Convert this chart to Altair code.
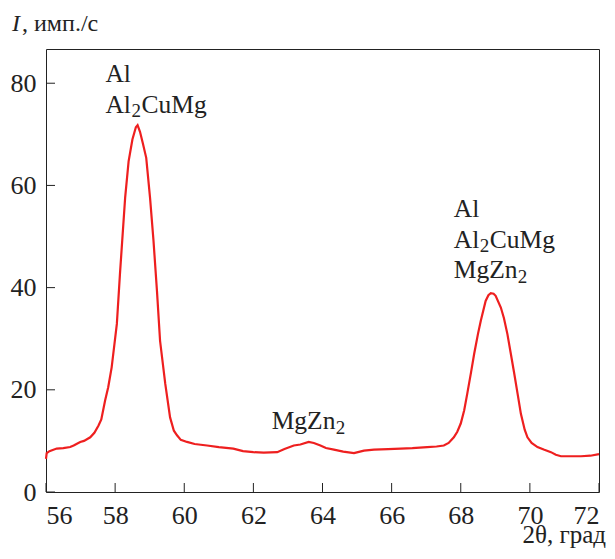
import altair as alt
import pandas as pd

theta = [56.0, 56.02, 56.1, 56.31, 56.5, 56.7, 56.8, 56.99, 57.1, 57.28, 57.4, 57.52, 57.6, 57.71, 57.8,
         57.9, 58.05, 58.14, 58.29, 58.39, 58.5, 58.6, 58.65, 58.72, 58.8, 58.9, 59.01, 59.11, 59.21, 59.3,
         59.45, 59.59, 59.7, 59.79, 59.9, 60.08, 60.3, 60.66, 61.0, 61.42, 61.7, 62.0, 62.3, 62.69, 62.9,
         63.17, 63.36, 63.6, 63.75, 63.94, 64.1, 64.33, 64.6, 64.91, 65.2, 65.49, 65.9, 66.26, 66.6, 67.03,
         67.3, 67.51, 67.65, 67.8, 67.9, 68.0, 68.1, 68.19, 68.3, 68.39, 68.5, 68.58, 68.72, 68.8, 68.87,
         68.95, 69.01, 69.16, 69.25, 69.35, 69.45, 69.55, 69.65, 69.74, 69.85, 69.93, 70.05, 70.22, 70.4,
         70.61, 70.75, 70.9, 71.2, 71.48, 71.75, 72.0]
intensity = [6.5, 7.6, 8.0, 8.5, 8.6, 8.8, 9.1, 9.8, 10.0, 10.7, 11.6, 13.0, 14.2, 17.9, 20.5,
             24.4, 32.9, 42.7, 57.6, 64.7, 69.0, 71.4, 71.8, 70.5, 68.3, 65.4, 57.6, 49.2, 39.4, 29.6,
             21.2, 14.6, 12.0, 11.1, 10.2, 9.8, 9.4, 9.1, 8.8, 8.5, 8.0, 7.8, 7.7, 7.8, 8.4,
             9.1, 9.3, 9.8, 9.6, 9.1, 8.6, 8.3, 7.9, 7.6, 8.1, 8.3, 8.4, 8.5, 8.6, 8.8,
             8.9, 9.1, 9.6, 10.7, 11.8, 13.4, 16.0, 19.3, 23.5, 27.1, 31.0, 33.5, 37.4, 38.5, 38.9,
             38.8, 38.4, 36.1, 34.0, 30.9, 27.0, 23.1, 19.0, 15.3, 12.2, 10.7, 9.6, 8.8, 8.3,
             7.8, 7.3, 7.0, 7.0, 7.0, 7.1, 7.4]

x_ticks = [56, 58, 60, 62, 64, 66, 68, 70, 72]
y_ticks = [0, 20, 40, 60, 80]

# annotation lines: main part, subscript, tail (e.g. "Al" + "2" + "CuMg")
label_main = ["Al", "Al", "Al", "Al", "MgZn", "MgZn"]
label_sub = ["", "2", "", "2", "2", "2"]
label_tail = ["", "CuMg", "", "CuMg", "", ""]
label_x = [57.72, 57.72, 67.8, 67.8, 67.8, 62.53]
label_y = [80.3, 74.2, 53.9, 47.7, 41.8, 12.4]

W, H = 553, 443
FONT = "Liberation Serif, Times New Roman, DejaVu Serif, serif"
INK = "#222222"
FS_TICK = 26
FS_ANN = 25.5
FS_SUB = 19

xs = alt.Scale(domain=[56, 72], nice=False)
ys = alt.Scale(domain=[0, 86.7], nice=False)

df = pd.DataFrame({"t": theta, "i": intensity})
line = alt.Chart(df).mark_line(color="#ee1f1f", strokeWidth=2.2).encode(
    x=alt.X("t:Q", scale=xs,
            axis=alt.Axis(values=x_ticks, title=None, ticks=False, domain=False, grid=False,
                          labelFont=FONT, labelFontSize=FS_TICK, labelColor=INK, labelPadding=10)),
    y=alt.Y("i:Q", scale=ys,
            axis=alt.Axis(values=y_ticks, title=None, ticks=False, domain=False, grid=False,
                          labelFont=FONT, labelFontSize=FS_TICK, labelColor=INK, labelPadding=10)),
)

xt = alt.Chart(pd.DataFrame({"v": x_ticks})).mark_rule(color=INK, strokeWidth=1).encode(
    x=alt.X("v:Q", scale=xs), y=alt.value(H), y2=alt.value(H - 9))
yt = alt.Chart(pd.DataFrame({"v": y_ticks})).mark_rule(color=INK, strokeWidth=1).encode(
    y=alt.Y("v:Q", scale=ys), x=alt.value(0), x2=alt.value(9))

ann = pd.DataFrame({"x": label_x, "y": label_y, "m": label_main, "s": label_sub, "tl": label_tail})
base = alt.Chart(ann).encode(x=alt.X("x:Q", scale=xs), y=alt.Y("y:Q", scale=ys))
ann_main = base.mark_text(font=FONT, fontSize=FS_ANN, align="left", baseline="alphabetic",
                          color=INK).encode(text="m:N")
ann_sub_al = base.transform_filter("datum.m == 'Al' && datum.s != ''").mark_text(
    font=FONT, fontSize=FS_SUB, align="left", baseline="alphabetic", color=INK, dx=26, dy=4
).encode(text="s:N")
ann_sub_mg = base.transform_filter("datum.m == 'MgZn'").mark_text(
    font=FONT, fontSize=FS_SUB, align="left", baseline="alphabetic", color=INK, dx=64, dy=5
).encode(text="s:N")
ann_tail = base.transform_filter("datum.tl != ''").mark_text(
    font=FONT, fontSize=FS_ANN, align="left", baseline="alphabetic", color=INK, dx=36
).encode(text="tl:N")

ytitle_i = alt.Chart(pd.DataFrame({"s": ["I"]})).mark_text(
    font=FONT, fontSize=24, fontStyle="italic", align="left", baseline="alphabetic", color=INK).encode(
    x=alt.value(-34), y=alt.value(-18), text="s:N")
ytitle_rest = alt.Chart(pd.DataFrame({"s": [", имп./с"]})).mark_text(
    font=FONT, fontSize=24, align="left", baseline="alphabetic", color=INK).encode(
    x=alt.value(-24), y=alt.value(-18), text="s:N")
xtitle = alt.Chart(pd.DataFrame({"s": ["2θ, град"]})).mark_text(
    font=FONT, fontSize=25, align="right", baseline="alphabetic", color=INK).encode(
    x=alt.value(W + 7), y=alt.value(H + 51), text="s:N")

chart = alt.layer(line, xt, yt, ann_main, ann_sub_al, ann_sub_mg, ann_tail,
                  ytitle_i, ytitle_rest, xtitle).properties(
    width=W, height=H,
    autosize=alt.AutoSizeParams(type="none"),
    padding={"left": 38, "top": 41, "right": 8, "bottom": 57},
).configure_view(stroke=INK, strokeWidth=1)

chart.save("out.html", embed_options={"renderer": "svg", "actions": False})
